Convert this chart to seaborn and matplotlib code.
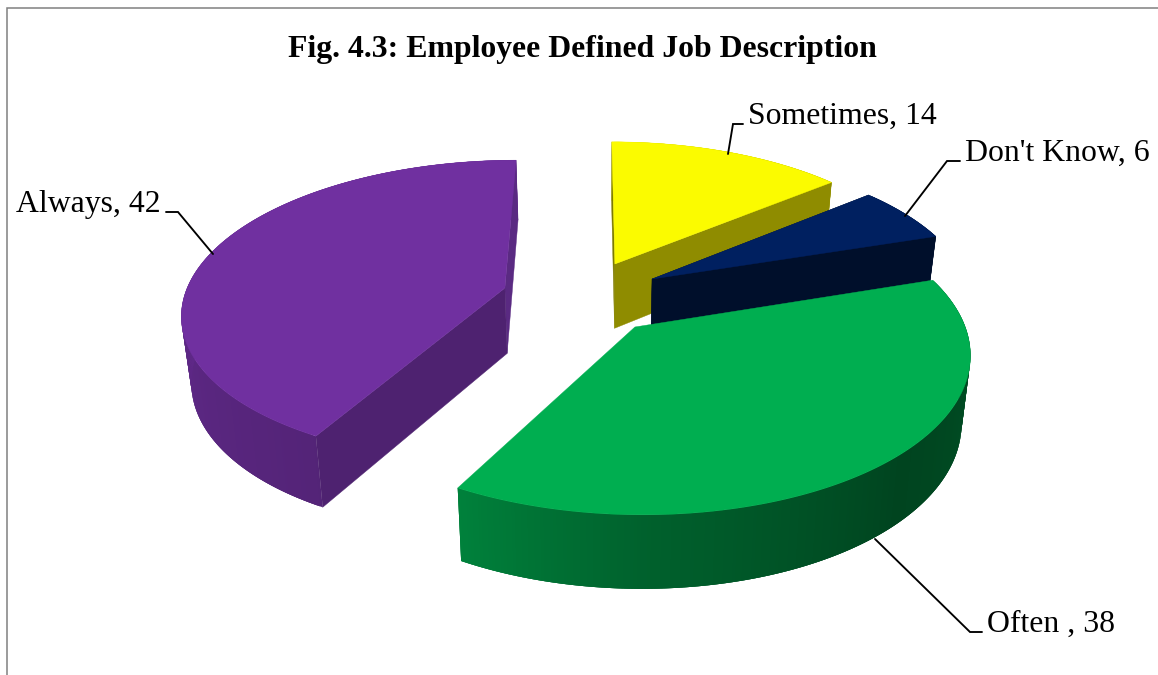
import numpy as np
import matplotlib
matplotlib.use("Agg")
import matplotlib.pyplot as plt
from matplotlib.patches import Polygon
from matplotlib.colors import to_rgb
import seaborn as sns

# Chart content, clockwise from twelve o'clock
categories = ["Sometimes", "Don't Know", "Often ", "Always"]
values = [14, 6, 38, 42]
title_text = "Fig. 4.3: Employee Defined Job Description"

# Face colours per slice
top_colours = sns.color_palette(["#FBFB00", "#002060", "#00AE50", "#7030A0"])
cut_colours = sns.color_palette(["#8F8C00", "#000F2B", "#004F24", "#4E2270"])
strip_colours = sns.color_palette(["#7D7A00", "#000F2B", "#004F24", "#5A2A82"])

# Where each slice's tip sits on the pie plane after being pulled out
explode = {"Sometimes": (0.077, 0.215), "Don't Know": (0.194, 0.109),
           "Often ": (0.133, -0.208), "Always": (-0.271, 0.047)}

# Camera of the tilted pie, in pixels
VX, VY, RX, RY, K = 591.0, 295.0, 320.0, 149.0, 0.15
NADIR_X, NADIR_T, DEPTH, DEPTH_BIAS = 600.0, 0.024, 105.0, 0.6

# Shading of the rim by compass bearing
rim_bearing = [0, 80, 135, 180, 210, 270, 360]
rim_shade = [0.90, 0.47, 0.39, 0.56, 0.75, 0.85, 0.90]


def top_point(X, Y):
    w = 1 + K * Y
    return np.column_stack([VX + RX * X / w, VY - RY * Y / w])


def bottom_point(X, Y):
    w = 1 + K * Y
    p = top_point(X, Y)
    p[:, 0] += (NADIR_X - p[:, 0]) * NADIR_T
    p[:, 1] += DEPTH / (w + DEPTH_BIAS)
    return p


def arc(centre, a0, a1, step=0.5):
    n = max(int(abs(a1 - a0) / step), 2)
    t = np.radians(np.linspace(a0, a1, n + 1))
    return centre[0] + np.sin(t), centre[1] + np.cos(t), np.degrees(t)


def radial_face(ax, centre, bearing, colour):
    t = np.radians(bearing)
    X = np.array([centre[0], centre[0] + np.sin(t)])
    Y = np.array([centre[1], centre[1] + np.cos(t)])
    pts = np.vstack([top_point(X, Y), bottom_point(X, Y)[::-1]])
    ax.add_patch(Polygon(pts, closed=True, fc=colour, ec=colour, lw=0.3))


sns.set_theme(style="white")
plt.rcParams["font.family"] = ["Liberation Serif", "DejaVu Serif"]

fig = plt.figure(figsize=(11.58, 6.75), dpi=100, facecolor="white")
ax = fig.add_axes([0, 0, 1, 1])
ax.set_xlim(0, 1158)
ax.set_ylim(675, 0)
ax.axis("off")

# Outer frame, open towards the right and bottom
ax.plot([6.7, 6.7, 1158], [675, 7.5, 7.5], color="#808080", lw=1.1,
        solid_joinstyle="miter")

# Leader lines sit behind the slices
leaders = [
    ([728, 733, 743], [154, 124, 124]),
    ([905, 947, 960], [216, 161, 161]),
    ([875, 970, 982], [539, 632, 632]),
    ([166, 178, 213], [212, 212, 254]),
]
for lx, ly in leaders:
    ax.plot(lx, ly, color="black", lw=1.35, solid_joinstyle="miter")

# Bearings of every slice come straight from the values
total = sum(values)
edges = np.concatenate([[0], np.cumsum(values)]) * 360.0 / total

# Painted from the back of the scene to the front
for i in [0, 1, 3, 2]:
    name = categories[i]
    a0, a1 = edges[i], edges[i + 1]
    c = explode[name]
    base = np.array(to_rgb(top_colours[i]))

    # Rim: each band reaches over its neighbour so no seams show between them
    X, Y, deg = arc(c, a0, a1)
    tp, bp = top_point(X, Y), bottom_point(X, Y)
    last = len(deg) - 1
    for j in range(last):
        k = min(j + 3, last)
        shade = np.interp(0.5 * (deg[j] + deg[j + 1]), rim_bearing, rim_shade)
        quad = [tp[j], tp[k], bp[k], bp[j]]
        ax.add_patch(Polygon(quad, closed=True, fc=tuple(base * shade),
                             ec="none", lw=0))

    # Flat cut faces; the front slice's walls face away from the viewer
    if name != "Often ":
        cut_bearing, strip_bearing = (a0, a1) if name == "Always" else (a1, a0)
        radial_face(ax, c, strip_bearing, strip_colours[i])
        radial_face(ax, c, cut_bearing, cut_colours[i])

    # Upper face
    outline = np.vstack([top_point(np.array([c[0]]), np.array([c[1]])), tp])
    ax.add_patch(Polygon(outline, closed=True, fc=top_colours[i],
                         ec=top_colours[i], lw=0.3))

ax.text(582.5, 57, title_text, ha="center", va="baseline", fontsize=22.85,
        fontweight="bold", color="black")

label_places = [(748, 124), (965, 161), (987, 632), (16, 212)]
for name, v, (tx, ty) in zip(categories, values, label_places):
    ax.text(tx, ty, f"{name}, {v}", ha="left", va="baseline", fontsize=22.9,
            color="black")

fig.savefig("out.png", dpi=100, facecolor="white")
